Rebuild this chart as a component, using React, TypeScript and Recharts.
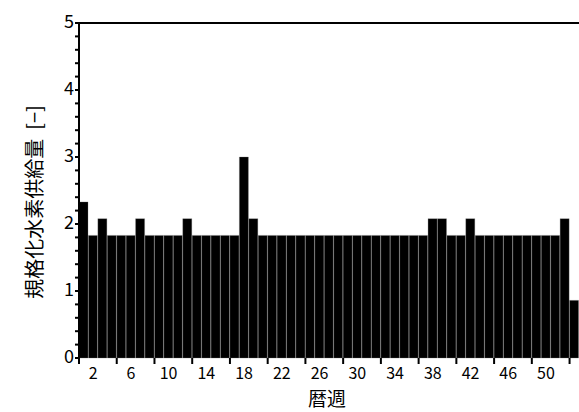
import { BarChart, Bar, XAxis, YAxis, ReferenceLine } from 'recharts';

// 暦週 1..53
const weeks = Array.from({ length: 53 }, (_, i) => i + 1);

// normalized hydrogen supply per calendar week
const supply = [
  2.33, 1.83, 2.08, 1.83, 1.83, 1.83, 2.08, 1.83, 1.83, 1.83,
  1.83, 2.08, 1.83, 1.83, 1.83, 1.83, 1.83, 3.0, 2.08, 1.83,
  1.83, 1.83, 1.83, 1.83, 1.83, 1.83, 1.83, 1.83, 1.83, 1.83,
  1.83, 1.83, 1.83, 1.83, 1.83, 1.83, 1.83, 2.08, 2.08, 1.83,
  1.83, 2.08, 1.83, 1.83, 1.83, 1.83, 1.83, 1.83, 1.83, 1.83,
  1.83, 2.08, 0.86,
];

const yTicks = Array.from({ length: 26 }, (_, i) => Math.round(i * 2) / 10);
const xLabels = [2, 6, 10, 14, 18, 22, 26, 30, 34, 38, 42, 46, 50];

const data = weeks.map((w, i) => ({ week: w, value: supply[i] }));

const numFont = "'Liberation Sans Narrow', 'Noto Sans CJK JP', sans-serif";
const cjkFont = "'Noto Sans CJK JP', sans-serif";

const BAND = 500 / 53;

function WeekTick(props: any) {
  const { x, y, payload } = props;
  const week = payload.value as number;
  const left = x - BAND / 2;
  return (
    <g>
      {(week - 1) % 4 === 0 && (
        <line x1={left} x2={left} y1={y - 8} y2={y - 2} stroke="#000" strokeWidth={2} />
      )}
      {xLabels.includes(week) && (
        <text x={x} y={y + 13} textAnchor="middle" fontSize={16} fontFamily={numFont} fill="#000">
          {week}
        </text>
      )}
    </g>
  );
}

function ValueTick(props: any) {
  const { x, y, payload } = props;
  const v = payload.value as number;
  const major = Math.abs(v - Math.round(v)) < 1e-6;
  return (
    <g>
      <line x1={x + 4} x2={x + 9} y1={y} y2={y} stroke="#000" strokeWidth={2} />
      {major && (
        <text x={x + 3} y={y + 5} textAnchor="end" fontSize={18} fontFamily={numFont} fill="#000">
          {Math.round(v)}
        </text>
      )}
    </g>
  );
}

export default function App() {
  return (
    <div style={{ position: 'absolute', left: 0, top: 0, background: '#fff' }}>
      <BarChart
        width={579}
        height={412}
        data={data}
        margin={{ top: 23, right: 0, left: 0, bottom: 0 }}
        barCategoryGap={0}
        barGap={0}
      >
        <XAxis
          dataKey="week"
          type="category"
          height={54}
          interval={0}
          axisLine={false}
          tickLine={false}
          tick={<WeekTick />}
        />
        <YAxis
          type="number"
          domain={[0, 5]}
          ticks={yTicks}
          width={79}
          interval={0}
          axisLine={{ stroke: '#000', strokeWidth: 2 }}
          tickLine={false}
          tick={<ValueTick />}
        />
        <ReferenceLine y={5} stroke="#000" strokeWidth={2} ifOverflow="visible" />
        <Bar dataKey="value" fill="#000" stroke="#777" strokeWidth={0.3} isAnimationActive={false} />
        <text x={327} y={406} textAnchor="middle" fontSize={19} fontFamily={cjkFont} fill="#000">
          暦週
        </text>
        <text
          x={42}
          y={202}
          textAnchor="middle"
          fontSize={20}
          fontFamily={cjkFont}
          fill="#000"
          transform="rotate(-90 42 202)"
        >
          {'規格化水素供給量\u00a0\u00a0[−]'}
        </text>
      </BarChart>
    </div>
  );
}
